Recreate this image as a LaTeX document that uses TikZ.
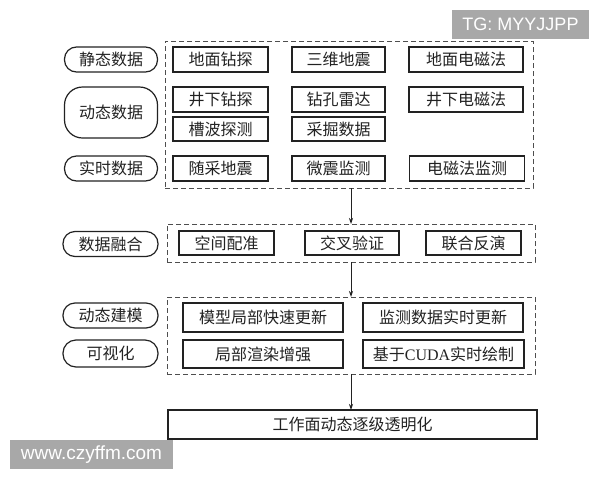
\documentclass[tikz,border=0pt]{standalone}
\usepackage{fontspec}
\setmainfont{Liberation Serif}
\newfontfamily\cjk{Noto Sans CJK SC}
\newfontfamily\wmfont{Liberation Sans}
\usetikzlibrary{arrows.meta}
\definecolor{ink}{HTML}{222222}
\definecolor{wmgray}{HTML}{A8A8A8}
\begin{document}
\begin{tikzpicture}[x=1pt,y=-1pt,
  every node/.style={inner sep=0pt, outer sep=0pt, text=ink, font=\cjk\fontsize{16}{18}\selectfont},
  boxx/.style={draw=ink, line width=1.2pt, fill=white, minimum height=25pt},
  ovalx/.style={draw=ink, line width=1.2pt, rounded corners=12pt, minimum width=93pt, minimum height=25pt},
  groupx/.style={draw=ink!80, line width=0.9pt, dash pattern=on 5pt off 3pt},
  arrowx/.style={draw=ink, line width=0.8pt, -{Stealth[length=6pt,width=4pt]}},
  wmx/.style={fill=wmgray, text=white, font=\wmfont\fontsize{18}{20}\selectfont}
]
\path[use as bounding box, fill=white] (0,0) rectangle (600,480);

% group boxes
\node[groupx, minimum width=368pt, minimum height=147pt] (g1) at (349,114.5) {};
\node[groupx, minimum width=368pt, minimum height=38pt] (g2) at (351,243) {};
\node[groupx, minimum width=368pt, minimum height=77pt] (g3) at (351,335.5) {};

% row labels
\node[ovalx] (l1) at (111,59.5) {静态数据};
\node[ovalx, minimum height=51pt, rounded corners=18pt] (l2) at (111,112.5) {动态数据};
\node[ovalx] (l3) at (111,168.5) {实时数据};
\node[ovalx, minimum width=95pt] (l4) at (110.5,244) {数据融合};
\node[ovalx, minimum width=95pt] (l5) at (110.5,315.5) {动态建模};
\node[ovalx, minimum width=95pt, minimum height=27pt, rounded corners=13pt] (l6) at (110.5,353.5) {可视化};

% group 1
\node[boxx, minimum width=95pt] (a1) at (220.5,59.5) {地面钻探};
\node[boxx, minimum width=93pt] (a2) at (338.5,59.5) {三维地震};
\node[boxx, minimum width=114pt] (a3) at (466,59.5) {地面电磁法};
\node[boxx, minimum width=95pt] (b1) at (220.5,99.5) {井下钻探};
\node[boxx, minimum width=93pt] (b2) at (338.5,99.5) {钻孔雷达};
\node[boxx, minimum width=114pt] (b3) at (466,99.5) {井下电磁法};
\node[boxx, minimum width=95pt, minimum height=24pt] (b4) at (220.5,129) {槽波探测};
\node[boxx, minimum width=93pt, minimum height=24pt] (b5) at (338.5,129) {采掘数据};
\node[boxx, minimum width=95pt] (c1) at (220.5,168.5) {随采地震};
\node[boxx, minimum width=93pt] (c2) at (338.5,168.5) {微震监测};
\node[boxx, minimum width=115pt] (c3) at (467,168.5) {电磁法监测};

% group 2
\node[boxx, minimum width=95pt, minimum height=24pt] (d1) at (226.5,243) {空间配准};
\node[boxx, minimum width=94pt, minimum height=24pt] (d2) at (352,243) {交叉验证};
\node[boxx, minimum width=95pt, minimum height=24pt] (d3) at (473.5,243) {联合反演};

% group 3
\node[boxx, minimum width=160pt, minimum height=29pt] (e1) at (263,317.5) {模型局部快速更新};
\node[boxx, minimum width=160pt, minimum height=29pt] (e2) at (443,317.5) {监测数据实时更新};
\node[boxx, minimum width=160pt, minimum height=28pt] (e3) at (263,354) {局部渲染增强};
\node[boxx, minimum width=161pt, minimum height=28pt] (e4) at (443.5,354) {基于{\fontspec{Liberation Serif}CUDA}实时绘制};

% final
\node[boxx, minimum width=369pt, minimum height=29pt] (f) at (352.5,424.5) {工作面动态逐级透明化};

% arrows
\coordinate (ax) at (351,0);
\draw[arrowx] (g1.south -| ax) -- (g2.north -| ax);
\draw[arrowx] (g2.south -| ax) -- (g3.north -| ax);
\draw[arrowx] (g3.south -| ax) -- (f.north -| ax);

% watermarks
\node[wmx, minimum width=137pt, minimum height=29pt] (wm1) at (520.5,24.5) {TG: MYYJJPP};
\node[wmx, minimum width=163pt, minimum height=29pt, font=\wmfont\fontsize{19}{21}\selectfont] (wm2) at (91.5,454.5) {www.czyffm.com};
\end{tikzpicture}
\end{document}
